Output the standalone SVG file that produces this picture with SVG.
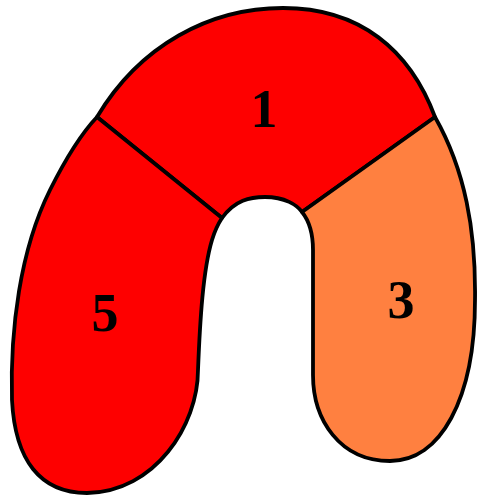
<svg xmlns="http://www.w3.org/2000/svg" width="477" height="496" viewBox="0 0 477 496">
<style>
.r{stroke:#000;stroke-width:3.8;stroke-linejoin:round}
.red{fill:#FE0000}
.org{fill:#FF8040}
.lbl{font-family:"Liberation Serif","Times New Roman",serif;font-weight:bold;font-size:54px;text-anchor:middle;fill:#000}
</style>
<rect width="477" height="496" fill="#fff"/>
<g id="region1">
<path class="r red" d="M97,117 C140,45 210,8 283,8 C360,8 410,50 435,117 L302,212 C297,205 285,197 265,197 C250,197 235,200 222,218 Z"/>
<text class="lbl" x="264" y="127">1</text>
</g>
<g id="region3">
<path class="r org" d="M435,117 C465,170 476,230 475,300 C475,400 440,461 390,461 C340,461 313,420 313,375 L313,250 C313,235 310,222 302,212 Z"/>
<text class="lbl" x="401" y="318">3</text>
</g>
<g id="region5">
<path class="r red" d="M97,117 L222,218 C218,224 215,230 212,240 C203,270 200,320 198,370 C198,425 155,492 87,493 C40,493 15,460 12,400 C10,330 20,250 50,190 C65,160 80,135 97,117 Z"/>
<text class="lbl" x="105" y="331">5</text>
</g>
</svg>
